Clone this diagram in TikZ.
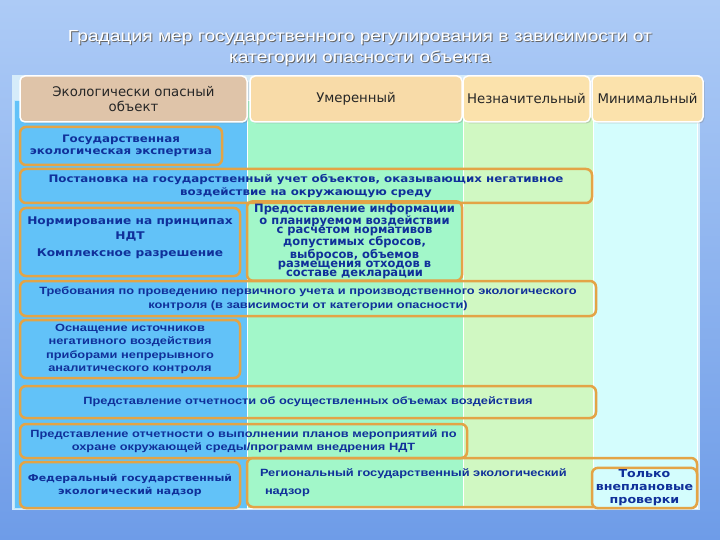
\documentclass[tikz,border=0pt]{standalone}
\usepackage{fontspec}
\setmainfont{DejaVu Sans}
\newfontfamily\verdana[FakeStretch=1.15]{DejaVu Sans}
\newfontfamily\tahoma[FakeStretch=1.22]{Liberation Sans}
\newfontfamily\titlefont[FakeStretch=1.2]{Liberation Sans}
\usetikzlibrary{shadows}
\definecolor{skytop}{HTML}{ADCBF6}
\definecolor{skybot}{HTML}{6E9CE8}
\definecolor{panel}{HTML}{D6ECFA}
\definecolor{colblue}{HTML}{62C2F8}
\definecolor{colmint}{HTML}{A2F7C9}
\definecolor{colpale}{HTML}{D0F8C2}
\definecolor{colcyan}{HTML}{D4FDFD}
\definecolor{headtan}{HTML}{DFC4A9}
\definecolor{headsand}{HTML}{F8DBA8}
\definecolor{headcream}{HTML}{FBE2AC}
\definecolor{cellorange}{HTML}{E3A446}
\definecolor{cellblue}{HTML}{10309A}

\begin{document}
\begin{tikzpicture}[x=1pt, y=-1pt,
	cell/.style={draw=cellorange, line width=2.5pt, rounded corners=6pt, inner sep=2pt, align=center,
		text=cellblue, font=\verdana\bfseries\fontsize{10.3}{12.5}\selectfont},
	lowcell/.style={cell, font=\tahoma\bfseries\fontsize{10.5}{13.5}\selectfont},
	head/.style={draw=white, line width=1.5pt, rounded corners=5pt, align=center, text=black!85,
		font=\fontsize{13.3}{15}\selectfont, drop shadow={shadow xshift=1.5pt, shadow yshift=-1.5pt, opacity=0.35}},
	titletext/.style={white, font=\titlefont\fontsize{16}{20}\selectfont}
]
	% sky
	\shade[top color=skytop, bottom color=skybot] (0,0) rectangle (720,540);
	\useasboundingbox (0,0) rectangle (720,540);

	% title
	\node[titletext, text=black!60] (titleshadow) at (361,39) {Градация мер государственного регулирования в зависимости от};
	\node[titletext] (title) at (360,38) {Градация мер государственного регулирования в зависимости от};
	\node[titletext, text=black!60] (title2shadow) at (361,59) {категории опасности объекта};
	\node[titletext] (title2) at (360,58) {категории опасности объекта};

	% columns
	\fill[panel] (12,75) rectangle (700,510);
	\filldraw[colblue, draw=white!60!colblue] (14,100) rectangle (247,508);
	\filldraw[colmint, draw=white] (247,100) rectangle (463,508);
	\filldraw[colpale, draw=white] (463,100) rectangle (593,508);
	\filldraw[colcyan, draw=white] (593,100) rectangle (697,508);

	% header row
	\node[head, fill=headtan, minimum width=227, minimum height=46] (hobj) at (133.5,99) {Экологически опасный\\объект};
	\node[head, fill=headsand, minimum width=212, minimum height=46] (hmod) at (356,99) {Умеренный};
	\node[head, fill=headcream, minimum width=127, minimum height=46] (hlow) at (526.5,99) {Незначительный};
	\node[head, fill=headcream, minimum width=111, minimum height=46] (hmin) at (647.5,99) {Минимальный};

	% rows
	\node[cell, minimum width=202, minimum height=38] (ekspert) at (121,146) {Государственная\\экологическая экспертиза};
	\node[cell, minimum width=572, minimum height=34] (uchet) at (306,186) {Постановка на государственный учет объектов, оказывающих негативное\\воздействие на окружающую среду};
	\node[cell, minimum width=220, minimum height=68, font=\verdana\bfseries\fontsize{10.6}{15}\selectfont] (norm) at (130,242) {Нормирование на принципах\\НДТ\\[2pt]Комплексное разрешение\\[-5pt]\mbox{}};
	\node[cell, minimum width=215, minimum height=68, font=\bfseries\fontsize{11.5}{9}\selectfont] (info) at (354.5,241)
		{Предоставление информации\\о планируемом воздействии\\с расчетом нормативов\\допустимых сбросов,\\выбросов, объемов\\размещения отходов в\\составе декларации};
	\node[lowcell, minimum width=576, minimum height=35] (treb) at (308,298.5) {Требования по проведению первичного учета и производственного экологического\\контроля (в зависимости от категории опасности)};
	\node[lowcell, minimum width=220, minimum height=58] (osnash) at (130,349) {Оснащение источников\\негативного воздействия\\приборами непрерывного\\аналитического контроля};
	\node[lowcell, minimum width=576, minimum height=32] (otchet) at (308,402) {Представление отчетности об осуществленных объемах воздействия};
	\node[lowcell, minimum width=447, minimum height=34] (plany) at (243.5,441) {Представление отчетности о выполнении планов мероприятий по\\охране окружающей среды/программ внедрения НДТ};
	\node[cell, minimum width=220, minimum height=46, font=\verdana\bfseries\fontsize{9.5}{13}\selectfont] (fed) at (130,485) {Федеральный государственный\\экологический надзор};
	\node[lowcell, minimum width=450, minimum height=49, text width=424, align=left, inner xsep=13pt,
		font=\tahoma\bfseries\fontsize{10.5}{18}\selectfont] (reg) at (472,482.5) {Региональный государственный экологический\\\hspace*{5pt}надзор};
	\node[cell, fill=colcyan, minimum width=105, minimum height=40, font=\verdana\bfseries\fontsize{11}{13}\selectfont] (tolko) at (644.5,488) {Только\\внеплановые\\проверки};
\end{tikzpicture}
\end{document}
